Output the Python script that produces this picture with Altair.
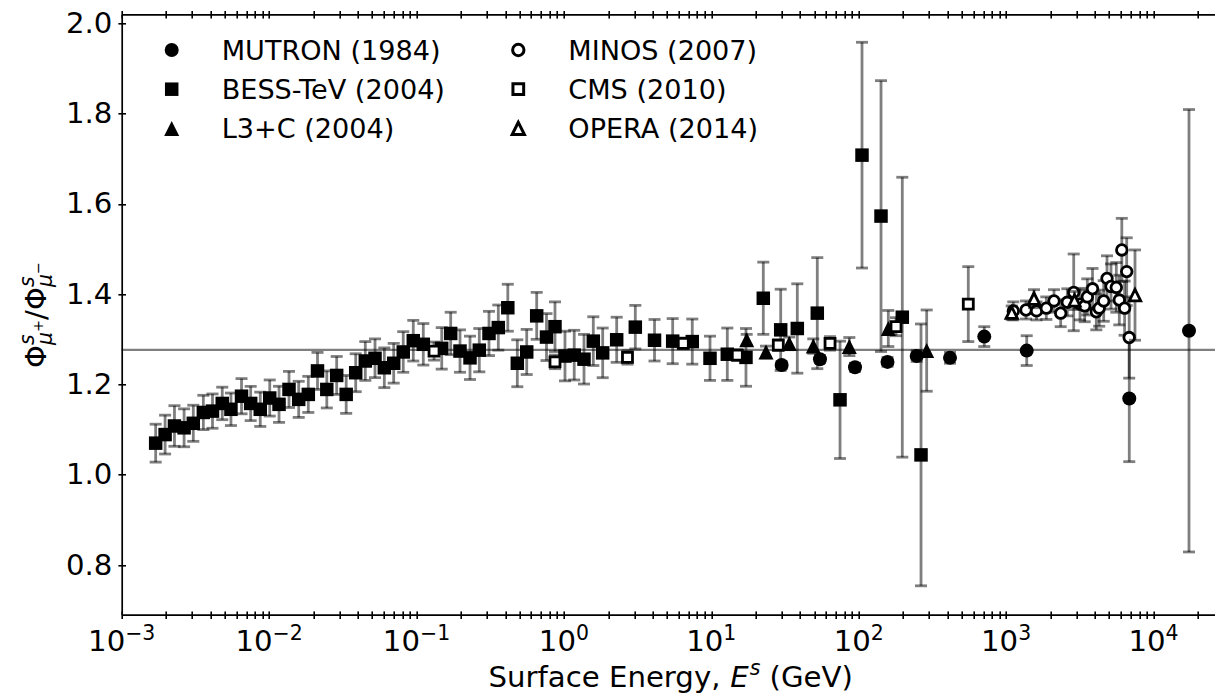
import altair as alt
import pandas as pd

# ---------------------------------------------------------------
# Muon charge ratio Phi(mu+)/Phi(mu-) versus surface energy (GeV)
# ---------------------------------------------------------------
series_names = ["MUTRON (1984)", "BESS-TeV (2004)", "L3+C (2004)",
                "MINOS (2007)", "CMS (2010)", "OPERA (2014)"]

mutron_e = [30.0, 54.6, 94.4, 156.8, 247.5, 416.3, 711.0, 1380.0, 6850.0, 17410.0]
mutron_r = [1.243, 1.256, 1.238, 1.250, 1.263, 1.259, 1.306, 1.275, 1.169, 1.319]
mutron_err = [0.008, 0.008, 0.009, 0.010, 0.012, 0.012, 0.022, 0.033, 0.14, 0.49]

bess_e = [0.00170, 0.00197, 0.00228, 0.00265, 0.00306, 0.00358, 0.00413, 0.00481,
          0.00551, 0.00650, 0.00750, 0.00871, 0.0101, 0.01168, 0.01365, 0.01588,
          0.01845, 0.0213, 0.02463, 0.02874, 0.03334, 0.03869, 0.04494, 0.05231,
          0.0605, 0.07003, 0.0813, 0.0951, 0.1112, 0.1483, 0.1706, 0.1973,
          0.2307, 0.2667, 0.3104, 0.3589, 0.4163, 0.483, 0.5594, 0.6538,
          0.762, 0.870, 1.017, 1.175, 1.369, 1.583, 1.833, 2.281,
          3.051, 4.119, 5.47, 7.43, 9.80, 12.84, 17.19, 22.53,
          29.57, 38.33, 52.37, 74.7, 105.3, 141.7, 197.6, 264.7]
bess_r = [1.070, 1.089, 1.108, 1.104, 1.114, 1.138, 1.141, 1.158,
          1.145, 1.174, 1.158, 1.145, 1.170, 1.156, 1.189, 1.167,
          1.178, 1.230, 1.189, 1.220, 1.178, 1.226, 1.252, 1.258,
          1.237, 1.247, 1.272, 1.297, 1.289, 1.280, 1.313, 1.274,
          1.259, 1.276, 1.313, 1.326, 1.370, 1.247, 1.272, 1.352,
          1.305, 1.328, 1.263, 1.265, 1.256, 1.296, 1.270, 1.299,
          1.327, 1.298, 1.296, 1.295, 1.258, 1.267, 1.260, 1.391,
          1.321, 1.324, 1.358, 1.166, 1.708, 1.573, 1.349, 1.044]
bess_err = [0.042, 0.043, 0.045, 0.042, 0.040, 0.038, 0.038, 0.036,
            0.036, 0.039, 0.038, 0.038, 0.040, 0.040, 0.040, 0.040,
            0.040, 0.041, 0.041, 0.042, 0.042, 0.042, 0.043, 0.043,
            0.044, 0.044, 0.045, 0.045, 0.046, 0.046, 0.047, 0.047,
            0.048, 0.048, 0.049, 0.050, 0.052, 0.052, 0.050, 0.052,
            0.052, 0.055, 0.055, 0.055, 0.055, 0.054, 0.055, 0.050,
            0.048, 0.046, 0.050, 0.050, 0.049, 0.058, 0.064, 0.080,
            0.090, 0.099, 0.123, 0.130, 0.250, 0.300, 0.310, 0.290]

l3c_e = [17.39, 23.5, 33.8, 49.2, 86.4, 158.8, 289.2]
l3c_r = [1.299, 1.272, 1.291, 1.285, 1.284, 1.324, 1.275]
l3c_err = [0.012, 0.013, 0.014, 0.016, 0.020, 0.040, 0.090]

minos_e = [1119, 1365, 1608, 1874, 2113, 2346, 2602, 2875, 3172, 3414, 3556, 3857,
           4093, 4281, 4594, 4837, 5149, 5593, 5861, 6095, 6368, 6579, 6841]
minos_r = [1.363, 1.365, 1.363, 1.369, 1.385, 1.358, 1.382, 1.404, 1.378, 1.374, 1.394, 1.412,
           1.361, 1.369, 1.385, 1.435, 1.417, 1.415, 1.387, 1.498, 1.369, 1.450, 1.304]
minos_err = [0.020, 0.020, 0.020, 0.025, 0.025, 0.030, 0.030, 0.085, 0.035, 0.035, 0.040, 0.045,
             0.040, 0.040, 0.045, 0.050, 0.050, 0.055, 0.055, 0.070, 0.060, 0.075, 0.090]

cms_e = [0.1315, 0.870, 2.70, 6.457, 15.01, 28.48, 63.9, 179.1, 554.0]
cms_r = [1.274, 1.250, 1.260, 1.291, 1.265, 1.287, 1.291, 1.328, 1.378]
cms_err = [0.020, 0.015, 0.015, 0.012, 0.012, 0.012, 0.015, 0.020, 0.083]

opera_e = [1092, 1546, 2911, 7490]
opera_r = [1.359, 1.390, 1.386, 1.398]
opera_err = [0.015, 0.020, 0.020, 0.100]

ref_ratio = 1.2766

y_ticks = [0.8, 1.0, 1.2, 1.4, 1.6, 1.8, 2.0]
x_major = [1e-3, 1e-2, 1e-1, 1.0, 10.0, 100.0, 1000.0, 10000.0]
x_exponent = ["−3", "−2", "−1", "0", "1", "2", "3", "4"]

# ---------------------------------------------------------------
# layout (plot area in pixels)
# ---------------------------------------------------------------
PAD_L, PAD_T = 121.7, 14.3
W, H = 1215 - PAD_L, 600.4
X_MAX = 10 ** (W / 147.4 - 3)
FONT = "DejaVu Sans"
F_TICK = 29.2
F_LEG = 27.1

xs = alt.Scale(type="log", domain=[1e-3, X_MAX], nice=False)
ys = alt.Scale(domain=[0.69, 2.02], nice=False, zero=False)

series_data = [
    (mutron_e, mutron_r, mutron_err),
    (bess_e, bess_r, bess_err),
    (l3c_e, l3c_r, l3c_err),
    (minos_e, minos_r, minos_err),
    (cms_e, cms_r, cms_err),
    (opera_e, opera_r, opera_err),
]

TRI = "M0,-1L-1,1L1,1Z"
marker_style = [
    dict(shape="circle", size=196, filled=True),
    dict(shape="square", size=182, filled=True),
    dict(shape=TRI, size=225, filled=True),
    dict(shape="circle", size=112, filled=False),
    dict(shape="square", size=100, filled=False),
    dict(shape=TRI, size=130, filled=False),
]


def frame(e, r, err, name):
    return pd.DataFrame({
        "E": e, "R": r,
        "lo": [a - b for a, b in zip(r, err)],
        "hi": [a + b for a, b in zip(r, err)],
        "series": name,
    })


frames = [frame(e, r, err, n) for (e, r, err), n in zip(series_data, series_names)]
all_df = pd.concat(frames, ignore_index=True)

# ---------------------------------------------------------------
# axes (ticks straddle the frame lines, drawn as separate axes)
# ---------------------------------------------------------------
x_tick_values = []
for k in range(-3, 5):
    for m in range(1, 10):
        v = m * 10.0 ** k
        if v <= X_MAX:
            x_tick_values.append(v)

TL = 7.6
tick_common = dict(domain=False, grid=False, title=None, tickColor="black",
                   tickWidth=1.6, tickSize=TL, offset=-TL / 2)
dom_common = dict(domain=True, domainColor="black", domainWidth=1.7, ticks=False,
                  labels=False, grid=False, title=None)

ax_bottom = alt.Axis(orient="bottom", values=x_tick_values, labels=False, **tick_common)
ax_top = alt.Axis(orient="top", values=x_tick_values, labels=False, **tick_common)
ax_left = alt.Axis(orient="left", values=y_ticks, format=".1f", labelFont=FONT,
                   labelFontSize=F_TICK, labelColor="black", labelPadding=6,
                   labelOverlap=False, labelFlush=False, **tick_common)

base = alt.Chart(all_df)
invisible = dict(opacity=0, size=1)
axis_layers = [
    base.mark_point(**invisible).encode(
        x=alt.X("E:Q", scale=xs, axis=ax_bottom),
        y=alt.Y("R:Q", scale=ys, axis=ax_left)),
    base.mark_point(**invisible).encode(
        x=alt.X("E:Q", scale=xs, axis=ax_top),
        y=alt.Y("R:Q", scale=ys, axis=alt.Axis(orient="left", **dom_common))),
    base.mark_point(**invisible).encode(
        x=alt.X("E:Q", scale=xs, axis=alt.Axis(orient="bottom", **dom_common)),
        y=alt.Y("R:Q", scale=ys, axis=None)),
    base.mark_point(**invisible).encode(
        x=alt.X("E:Q", scale=xs, axis=alt.Axis(orient="top", **dom_common)),
        y=alt.Y("R:Q", scale=ys, axis=None)),
]

# x tick labels: "10" with a raised exponent, centred on each decade tick
F = F_TICK
lab_df = pd.DataFrame({"E": x_major, "exp": x_exponent})
lab_df["neg"] = lab_df["exp"].str.startswith("−")
y_lab = 650.7 - PAD_T
label_layers = []
for neg, grp in lab_df.groupby("neg"):
    w_exp = (0.838 + 0.636) * 0.7 * F if neg else 0.636 * 0.7 * F
    split = -(1.272 * F + w_exp) / 2 + 1.272 * F
    c = alt.Chart(grp)
    label_layers.append(c.mark_text(
        text="10", align="right", baseline="alphabetic", font=FONT, fontSize=F,
        color="black", dx=split
    ).encode(x=alt.X("E:Q", scale=xs, axis=None), y=alt.value(y_lab)))
    label_layers.append(c.mark_text(
        align="left", baseline="alphabetic", font=FONT, fontSize=0.7 * F,
        color="black", dx=split
    ).encode(x=alt.X("E:Q", scale=xs, axis=None), y=alt.value(y_lab - 0.36 * F),
             text="exp:N"))

# reference ratio line
ref_line = alt.Chart(pd.DataFrame({"r": [ref_ratio]})).mark_rule(
    color="black", opacity=0.5, strokeWidth=2.4
).encode(y=alt.Y("r:Q", scale=ys, axis=None))

# ---------------------------------------------------------------
# data layers, one experiment at a time
# ---------------------------------------------------------------
data_layers = []
for df, st in zip(frames, marker_style):
    c = alt.Chart(df)
    xe = alt.X("E:Q", scale=xs, axis=None)
    data_layers.append(c.mark_rule(color="black", opacity=0.5, strokeWidth=2.8).encode(
        x=xe, y=alt.Y("lo:Q", scale=ys, axis=None), y2="hi:Q"))
    for col in ("lo", "hi"):
        data_layers.append(c.mark_tick(orient="horizontal", color="black", opacity=0.5,
                                       size=12, thickness=2.8).encode(
            x=xe, y=alt.Y(f"{col}:Q", scale=ys, axis=None)))
    if st["filled"]:
        mk = c.mark_point(shape=st["shape"], size=st["size"], filled=True,
                          fill="black", strokeWidth=0, opacity=1)
    else:
        mk = c.mark_point(shape=st["shape"], size=st["size"], filled=True,
                          fill="white", stroke="black", strokeWidth=2.8, opacity=1)
    data_layers.append(mk.encode(x=xe, y=alt.Y("R:Q", scale=ys, axis=None)))

# ---------------------------------------------------------------
# legend (two columns of three entries)
# ---------------------------------------------------------------
one = pd.DataFrame({"k": [0]})
legend_layers = []
for i, (name, st) in enumerate(zip(series_names, marker_style)):
    col, row = divmod(i, 3)
    mx = 171.7 + col * 346.6 - PAD_L
    my = 50.0 + row * 39.2 - PAD_T
    if st["filled"]:
        mk = alt.Chart(one).mark_point(shape=st["shape"], size=st["size"], filled=True,
                                       fill="black", strokeWidth=0, opacity=1)
    else:
        mk = alt.Chart(one).mark_point(shape=st["shape"], size=st["size"] * 1.15, filled=True,
                                       fill="white", stroke="black", strokeWidth=3.0, opacity=1)
    legend_layers.append(mk.encode(x=alt.value(mx), y=alt.value(my)))
    legend_layers.append(alt.Chart(one).mark_text(
        text=name, align="left", baseline="alphabetic", font=FONT,
        fontSize=F_LEG, color="black"
    ).encode(x=alt.value(mx + 50), y=alt.value(my + 0.729 * F_LEG / 2)))

# ---------------------------------------------------------------
# axis titles (math-style pieces set as separate text runs)
# ---------------------------------------------------------------
def txt(s, x, y, size, style="normal", angle=0):
    kw = dict(text=s, align="left", baseline="alphabetic", font=FONT, fontSize=size,
              fontStyle=style, color="black")
    if angle:
        kw["angle"] = angle
    return alt.Chart(one).mark_text(**kw).encode(x=alt.value(x), y=alt.value(y))


title_layers = []
# x title: "Surface Energy, E^s (GeV)"
w_head = 8.283 * F
w_E = 0.66 * F
w_s = 0.521 * 0.7 * F
w_tail = 3.172 * F
x0 = (670.7 - PAD_L) - (w_head + w_E + w_s + w_tail) / 2
yb = 687.0 - PAD_T
title_layers.append(txt("Surface Energy,", x0, yb, F))
title_layers.append(txt("E", x0 + w_head, yb, F, "italic"))
title_layers.append(txt("s", x0 + w_head + w_E, yb - 0.42 * F, 0.7 * F, "italic"))
title_layers.append(txt("(GeV)", x0 + w_head + w_E + w_s + 0.318 * F, yb, F))

# y title: Phi^s_{mu+} / Phi^s_{mu-}, rotated to read upwards
xb = 46.0 - PAD_L
a_sub = 0.636 * 0.7 * F
a_ss = 0.838 * 0.49 * F
a1 = 0.79 * F
a2 = a1 + a_sub + a_ss
a3 = a2 + 0.337 * F
a4 = a3 + 0.79 * F
total = a4 + a_sub + a_ss
y_start = (315.0 - PAD_T) + total / 2
pieces = [
    ("Φ", 0.0, 0.0, F, "normal"),
    ("s", a1, 0.42 * F, 0.7 * F, "italic"),
    ("μ", a1, -0.22 * F, 0.7 * F, "italic"),
    ("+", a1 + a_sub, 0.10 * F, 0.49 * F, "normal"),
    ("/", a2, 0.0, F, "normal"),
    ("Φ", a3, 0.0, F, "normal"),
    ("s", a4, 0.42 * F, 0.7 * F, "italic"),
    ("μ", a4, -0.22 * F, 0.7 * F, "italic"),
    ("−", a4 + a_sub, 0.10 * F, 0.49 * F, "normal"),
]
for s, along, raise_, size, style in pieces:
    title_layers.append(txt(s, xb - raise_, y_start - along, size, style, angle=270))

chart = alt.layer(
    *axis_layers, ref_line, *data_layers, *label_layers, *legend_layers, *title_layers
).resolve_axis(
    x="independent", y="independent"
).properties(
    width=W, height=H,
    padding={"left": PAD_L, "top": PAD_T, "right": 0, "bottom": 695 - PAD_T - H},
    autosize=alt.AutoSizeParams(type="none"),
    background="white",
).configure_view(stroke=None)

chart.save("out.html", embed_options={"renderer": "svg", "actions": False})
